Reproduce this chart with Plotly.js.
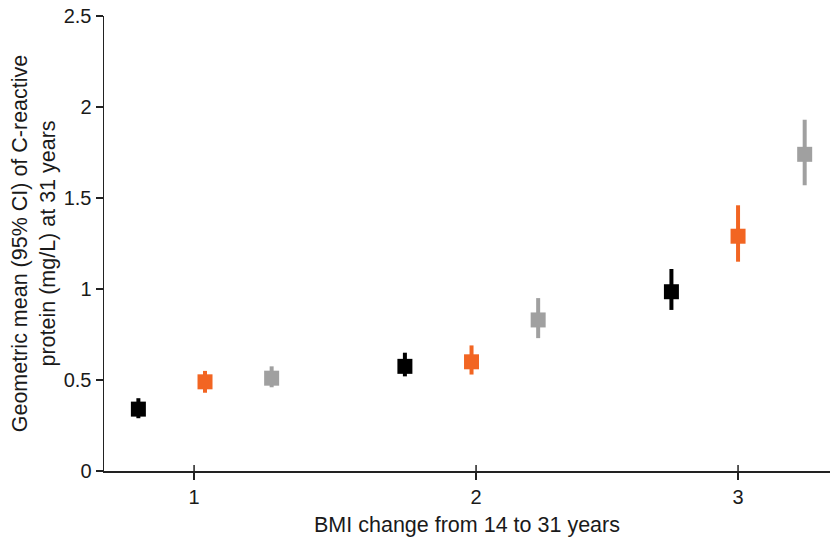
<!DOCTYPE html>
<html>
<head>
<meta charset="utf-8">
<script src="https://cdn.plot.ly/plotly-3.0.1.min.js"></script>
<style>html,body{margin:0;padding:0;background:#fff;}#chart{width:830px;height:545px;}</style>
</head>
<body>
<div id="chart"></div>
<script>
// Groups (BMI change categories)
const groups = [1, 2, 3];
const tickLabels = ['1', '2', '3'];
const tickPositions = [0.959, 2.017, 3.0];

// Series 1 (black)
const blackMean  = [0.34, 0.575, 0.985];
const blackLower = [0.29, 0.52, 0.885];
const blackUpper = [0.40, 0.65, 1.11];

// Series 2 (orange)
const orangeMean  = [0.49, 0.60, 1.29];
const orangeLower = [0.43, 0.53, 1.15];
const orangeUpper = [0.55, 0.69, 1.46];

// Series 3 (grey)
const greyMean  = [0.51, 0.83, 1.74];
const greyLower = [0.46, 0.73, 1.57];
const greyUpper = [0.575, 0.95, 1.93];

function series(mean, lower, upper, offset, color) {
  return {
    type: 'scatter',
    mode: 'markers',
    x: groups.map(g => g + offset),
    y: mean,
    marker: {symbol: 'square', size: 15, color: color},
    error_y: {
      type: 'data', symmetric: false,
      array: upper.map((u, i) => u - mean[i]),
      arrayminus: lower.map((l, i) => mean[i] - l),
      thickness: 4, width: 0, color: color
    },
    showlegend: false,
    hoverinfo: 'x+y'
  };
}

const data = [
  series(blackMean, blackLower, blackUpper, -0.25, '#000000'),
  series(orangeMean, orangeLower, orangeUpper, 0, '#F26522'),
  series(greyMean, greyLower, greyUpper, 0.25, '#A0A0A0')
];

const shapes = tickPositions.map(t => ({
  type: 'line', xref: 'x', yref: 'y', ysizemode: 'pixel', yanchor: 0,
  x0: t, x1: t, y0: 0, y1: 6, line: {color: '#222', width: 1.5}
}));
shapes.push({
  type: 'line', xref: 'paper', yref: 'y', ysizemode: 'pixel', yanchor: 0,
  x0: 0, x1: 0, y0: -6, y1: 0, line: {color: '#222', width: 1.5}
});

const font = {family: 'Liberation Sans, Arial, sans-serif', color: '#1a1a1a'};

const layout = {
  width: 830, height: 545,
  margin: {l: 104, r: 0, t: 16, b: 74, pad: 0},
  paper_bgcolor: '#fff', plot_bgcolor: '#fff',
  font: Object.assign({size: 17}, font),
  xaxis: {
    range: [0.621, 3.345],
    tickvals: tickPositions, ticktext: tickLabels,
    ticks: 'outside', ticklen: 7, tickwidth: 1.5, tickcolor: '#222',
    showline: true, linecolor: '#222', linewidth: 1.5,
    showgrid: false, zeroline: false,
    tickfont: Object.assign({size: 20}, font),
    title: {text: 'BMI change from 14 to 31 years', font: Object.assign({size: 21.5}, font), standoff: 10}
  },
  yaxis: {
    range: [0, 2.5], dtick: 0.5, tick0: 0,
    ticks: 'outside', ticklen: 7, tickwidth: 1.5, tickcolor: '#222',
    showline: true, linecolor: '#222', linewidth: 1.5,
    showgrid: false, zeroline: false,
    tickfont: Object.assign({size: 20}, font),
    title: {text: 'Geometric mean (95% CI) of C-reactive<br>protein (mg/L) at 31 years', font: Object.assign({size: 21.5}, font), standoff: 2}
  },
  shapes: shapes
};

Plotly.newPlot('chart', data, layout, {displayModeBar: false, staticPlot: true});
</script>
</body>
</html>
